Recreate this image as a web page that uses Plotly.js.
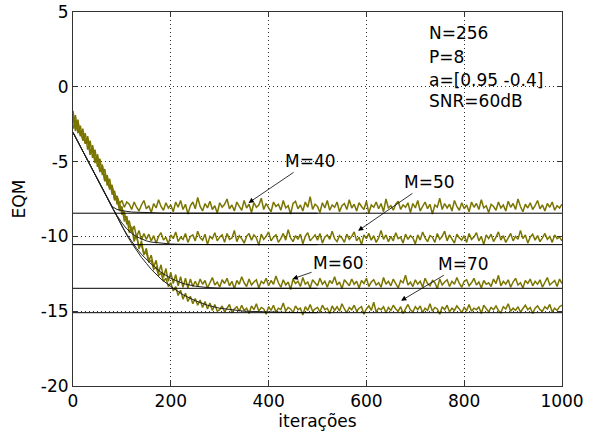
<!DOCTYPE html>
<html><head><meta charset="utf-8">
<script src="https://cdn.plot.ly/plotly-3.0.1.min.js"></script>
<style>html,body{margin:0;padding:0;background:#fff;}#chart{width:600px;height:437px;}</style>
</head><body><div id="chart"></div>
<script>
// iteration step between stored samples of the measured curves
const iterStep = 5;

// measured EQM (dB), one sample every 5 iterations, 0..1000
const mse40 = [-1.6,-2.7,-2.2,-3.3,-2.8,-3.8,-3.3,-4.45,-3.9,-5.0,-4.5,-5.6,-5.3,-6.3,-6.1,-6.8,-6.7,-7.5,-7.3,-7.8,-7.6,-8.05,-7.7,
-7.85,-8.2,-7.7,-8.05,-8.3,-7.9,-7.6,-8.15,-7.95,-8.4,
-7.8,-8.1,-7.55,-8.0,-8.25,-7.75,-8.1,-7.9,-8.35,-7.7,
-8.05,-7.6,-8.2,-7.85,-8.5,-7.95,-7.7,-8.15,-7.4,-8.0,
-8.3,-7.8,-8.1,-7.65,-8.2,-7.95,-8.45,-7.75,-8.05,-7.85,
-7.5,-8.15,-7.9,-8.3,-7.7,-8.0,-8.25,-7.6,-8.1,-7.85,
-8.4,-7.75,-8.05,-7.9,-7.45,-8.2,-7.8,-8.1,-8.35,-7.7,
-8.0,-7.85,-8.25,-7.6,-8.1,-7.95,-8.5,-7.8,-7.65,-8.15,
-7.9,-8.3,-7.7,-8.05,-7.35,-8.2,-7.85,-8.0,-8.4,-7.75,
-8.1,-7.6,-8.25,-7.9,-8.05,-7.7,-8.35,-7.95,-7.8,-8.2,
-7.55,-8.1,-7.85,-8.3,-7.75,-8.0,-8.2,-7.65,-8.45,-7.9,
-8.05,-7.7,-8.15,-7.8,-8.35,-7.5,-8.1,-7.95,-8.25,-7.85,
-7.65,-8.2,-7.9,-8.05,-7.75,-8.4,-7.8,-8.1,-7.6,-8.3,
-7.95,-7.7,-8.15,-7.85,-8.5,-7.9,-8.05,-7.45,-8.2,-7.8,
-8.1,-7.85,-8.3,-7.6,-8.0,-8.25,-7.75,-8.15,-7.9,-8.35,
-7.7,-8.05,-7.8,-8.2,-7.55,-8.1,-7.95,-8.4,-7.85,-8.0,
-8.25,-7.7,-8.1,-7.9,-8.3,-7.65,-8.05,-7.8,-8.2,-7.5,
-8.0,-8.35,-7.85,-8.1,-7.75,-8.2,-7.95,-7.6,-8.15,-7.9,
-8.3,-7.8,-8.05,-7.7,-8.25,-7.95,-8.1,-7.85];

const mse50 = [-2.4,-1.9,-3.1,-2.6,-3.6,-3.1,-4.2,-3.6,-4.75,-4.2,-5.35,-4.8,-5.9,-5.5,-6.6,-6.15,-7.2,-6.95,-7.85,-7.7,-8.55,-8.35,-9.2,-8.95,-9.75,-9.3,-10.05,-9.6,-10.25,-9.8,
-10.2,-9.85,-10.3,-9.95,-10.45,-10.0,-9.75,-10.25,-10.05,-10.5,
-9.9,-10.15,-9.7,-10.35,-10.05,-10.2,-9.8,-10.4,-10.0,-9.9,
-10.3,-9.65,-10.1,-10.25,-9.85,-10.55,-10.0,-10.15,-9.75,-10.3,
-10.05,-9.9,-10.4,-9.8,-10.2,-10.1,-9.6,-10.35,-9.95,-10.15,
-10.45,-10.0,-9.8,-10.25,-9.9,-10.1,-10.6,-9.85,-10.2,-10.0,
-9.7,-10.3,-10.05,-9.9,-10.4,-10.15,-9.8,-10.25,-9.55,-10.1,
-10.35,-9.95,-10.2,-9.85,-10.5,-10.0,-9.75,-10.3,-10.1,-9.9,
-10.25,-9.8,-10.45,-10.05,-9.9,-10.2,-9.65,-10.15,-10.35,-9.95,
-10.1,-10.4,-9.85,-10.2,-10.0,-9.7,-10.3,-10.05,-10.55,-9.9,
-10.15,-9.8,-10.25,-9.95,-10.4,-10.1,-9.6,-10.2,-9.9,-10.35,
-10.0,-10.3,-9.75,-10.15,-10.05,-10.45,-9.85,-10.2,-9.95,-10.1,
-10.5,-9.9,-10.25,-9.7,-10.1,-10.35,-9.95,-10.05,-10.4,-9.8,
-10.2,-10.0,-9.65,-10.3,-9.9,-10.15,-10.45,-9.85,-10.1,-10.25,
-9.95,-10.4,-9.8,-10.2,-10.05,-9.75,-10.3,-10.0,-10.55,-9.9,
-10.15,-9.85,-10.35,-10.05,-9.7,-10.25,-9.95,-10.4,-10.1,-9.8,
-10.3,-10.0,-10.2,-9.6,-10.15,-9.9,-10.45,-10.05,-9.85,-10.25,
-9.95,-10.35,-10.1,-9.8,-10.2,-10.0,-10.4,-9.9,-10.15,-10.05,
-10.3];

const mse60 = [-2.8,-2.2,-3.0,-2.95,-3.5,-3.6,-3.45,-4.55,-4.0,-5.1,-4.6,-5.7,-5.2,-6.3,-5.9,-6.85,-6.55,-7.6,-7.3,-8.3,
-8.0,-9.0,-8.65,-9.75,-9.35,-10.35,-9.85,-10.85,-10.3,-11.25,-10.8,-11.65,-11.25,-12.05,-11.6,-12.45,-11.9,-12.75,-12.15,-13.0,
-12.4,-13.15,-12.55,-13.3,-12.7,-13.4,-12.8,-13.45,-12.85,-13.35,
-13.0,-13.35,-12.85,-13.2,-12.95,-13.45,-13.1,-12.75,-13.25,-13.05,
-13.4,-12.9,-13.15,-12.8,-13.3,-13.0,-13.5,-12.95,-13.2,-12.7,
-13.1,-13.35,-12.85,-13.25,-13.05,-12.9,-13.45,-13.0,-13.15,-12.8,
-13.3,-12.95,-13.2,-12.65,-13.1,-13.4,-12.9,-13.25,-13.05,-13.55,
-12.85,-13.15,-13.0,-13.35,-12.75,-13.2,-13.05,-13.45,-12.9,-13.1,
-13.3,-12.8,-13.2,-13.0,-13.4,-12.95,-13.15,-12.7,-13.25,-13.05,
-13.5,-12.9,-13.1,-13.3,-12.85,-13.2,-13.0,-13.45,-12.95,-13.15,
-12.8,-13.35,-13.05,-12.9,-13.25,-13.1,-13.4,-12.75,-13.2,-13.0,
-13.3,-12.85,-13.15,-13.45,-12.95,-13.1,-12.6,-13.25,-13.05,-13.35,
-12.9,-13.2,-13.0,-13.4,-12.8,-13.15,-13.3,-12.95,-13.1,-13.5,
-12.85,-13.25,-13.05,-12.9,-13.35,-13.0,-13.2,-12.75,-13.15,-13.4,
-13.0,-12.9,-13.3,-13.1,-12.8,-13.25,-13.05,-13.45,-12.95,-13.2,
-13.1,-13.35,-12.85,-13.15,-12.6,-13.3,-13.0,-13.2,-12.9,-13.4,
-13.05,-12.8,-13.25,-13.1,-13.45,-12.95,-13.15,-12.85,-13.3,-13.0,
-13.2,-12.9,-13.4,-13.05,-12.75,-13.25,-13.1,-12.95,-13.35,-12.85,
-13.15];

const mse70 = [-2.0,-2.95,-2.35,-3.25,-3.1,-3.75,-3.65,-4.3,-4.3,-4.85,-4.75,-5.6,-5.4,-6.1,-6.1,-6.75,-6.7,-7.4,-7.4,-8.05,
-8.1,-8.7,-8.8,-9.35,-9.45,-10.05,-10.05,-10.65,-10.6,-11.15,-11.1,-11.7,-11.6,-12.2,-12.05,-12.6,-12.45,-13.0,-12.8,-13.35,
-13.1,-13.65,-13.35,-13.95,-13.6,-14.2,-13.8,-14.35,-14.0,-14.5,-14.15,-14.6,-14.25,-14.75,-14.35,-14.85,-14.45,-14.95,-14.55,-15.0,
-14.9,-14.65,-15.05,-14.75,-14.55,-15.1,-14.85,-14.7,-15.0,-14.6,
-14.95,-14.8,-15.15,-14.65,-14.9,-14.5,-15.0,-14.75,-14.85,-15.2,
-14.7,-14.95,-14.6,-15.05,-14.8,-14.9,-14.45,-15.0,-14.75,-14.85,
-15.1,-14.65,-14.9,-14.8,-15.25,-14.7,-14.95,-14.55,-15.0,-14.85,
-14.75,-15.05,-14.6,-14.9,-14.8,-15.15,-14.65,-14.95,-14.7,-15.0,
-14.5,-14.85,-15.1,-14.75,-14.9,-14.6,-15.0,-14.8,-14.7,-15.2,
-14.85,-14.65,-14.95,-14.4,-15.05,-14.8,-14.9,-14.7,-15.1,-14.75,
-14.95,-14.6,-14.85,-15.0,-14.7,-15.15,-14.8,-14.55,-14.9,-15.05,
-14.7,-14.9,-14.65,-15.1,-14.8,-14.95,-14.5,-15.0,-14.75,-14.85,
-15.2,-14.7,-14.9,-14.6,-15.05,-14.8,-14.95,-14.65,-14.85,-15.1,
-14.75,-14.95,-14.55,-15.0,-14.8,-14.9,-14.7,-15.15,-14.6,-14.85,
-15.05,-14.75,-14.9,-14.65,-14.95,-15.1,-14.7,-14.85,-14.5,-15.0,
-14.8,-14.95,-14.7,-15.05,-14.85,-14.6,-14.9,-14.75,-15.15,-14.8,
-14.65,-14.9,-15.0,-14.7,-14.85,-14.55,-15.05,-14.8,-14.95,-14.7,
-14.6];

// theoretical learning curves (dB)
const theoryIter = [0,10,20,30,40,50,60,70,80,90,100,110,120,130,140,150,160,180,200,225,250,275,300,350,400,450,500];
const theory40 = [-3.05,-3.68,-4.3,-4.93,-5.55,-6.18,-6.8,-7.43,-8.0,-8.2,-8.28,-8.33,-8.37,-8.39,-8.41,-8.42,-8.43,-8.44,-8.45,-8.45,-8.45,-8.45,-8.45,-8.45,-8.45,-8.45,-8.45];
const theory50 = [-3.05,-3.68,-4.3,-4.93,-5.55,-6.18,-6.8,-7.43,-8.05,-8.6,-9.1,-9.5,-9.8,-10.02,-10.18,-10.3,-10.38,-10.47,-10.51,-10.53,-10.55,-10.55,-10.55,-10.55,-10.55,-10.55,-10.55];
const theory60 = [-3.05,-3.68,-4.3,-4.93,-5.55,-6.18,-6.8,-7.43,-8.05,-8.7,-9.3,-9.85,-10.35,-10.8,-11.2,-11.55,-11.85,-12.4,-12.8,-13.15,-13.33,-13.42,-13.46,-13.47,-13.47,-13.47,-13.47];
const theory70 = [-3.05,-3.68,-4.3,-4.93,-5.55,-6.18,-6.8,-7.43,-8.05,-8.72,-9.35,-9.92,-10.45,-10.95,-11.4,-11.8,-12.2,-12.85,-13.35,-13.9,-14.3,-14.6,-14.8,-15.0,-15.07,-15.09,-15.1];

// steady-state levels (dB)
const steadyLevels = [-8.45,-10.55,-13.47,-15.1];
const seriesLabels = ['M=40','M=50','M=60','M=70'];
const xRange = [0,1000];
const xTicks = [0,200,400,600,800,1000];
const yTicks = [5,0,-5,-10,-15,-20];
const yTickText = ['5','0','-5','-10','-15','-20'];
const infoLines = ['N=256','P=8','a=[0.95 -0.4]','SNR=60dB'];

const measured = [mse40,mse50,mse60,mse70];
const theory = [theory40,theory50,theory60,theory70];

const FONT = 'DejaVu Sans, Arial, sans-serif';
const OLIVE = '#7a7500';

const traces = [];
measured.forEach((ys,k)=>{
  traces.push({x: ys.map((_,i)=>i*iterStep), y: ys, type:'scatter', mode:'lines',
    line:{color:OLIVE,width:1.5}, name:seriesLabels[k], hoverinfo:'skip'});
});
theory.forEach((ys,k)=>{
  traces.push({x: theoryIter, y: ys, type:'scatter', mode:'lines',
    line:{color:'#222',width:1}, name:seriesLabels[k]+' teórico', hoverinfo:'skip'});
});
steadyLevels.forEach((v,k)=>{
  traces.push({x: xRange, y:[v,v], type:'scatter', mode:'lines',
    line:{color:'#000',width:1}, name:seriesLabels[k]+' regime', hoverinfo:'skip'});
});

// arrow annotations: head point in data coords, text offset in px
const arrowSpecs = [
  {x:359, y:-7.76, ax:62, ay:-42},
  {x:583, y:-9.63, ax:71, ay:-49},
  {x:449, y:-12.84, ax:46, ay:-16},
  {x:671, y:-14.3, ax:62, ay:-37}
];
const annotations = arrowSpecs.map((s,k)=>({
  x:s.x, y:s.y, xref:'x', yref:'y', ax:s.ax, ay:s.ay, text:seriesLabels[k],
  showarrow:true, arrowhead:2, arrowsize:1.3, arrowwidth:0.8, arrowcolor:'#000',
  font:{family:FONT,size:17,color:'#000'}
}));
const infoY = [3.61,2.01,0.47,-0.94];
infoLines.forEach((t,k)=>{
  annotations.push({x:724, y:infoY[k], xref:'x', yref:'y', text:t, showarrow:false,
    xanchor:'left', yanchor:'middle', font:{family:FONT,size:17,color:'#000'}});
});

const axisCommon = {
  showline:true, linecolor:'#333', linewidth:1, mirror:'ticks',
  ticks:'inside', ticklen:5, tickcolor:'#333',
  showgrid:true, gridcolor:'#333', griddash:'1px,3px', gridwidth:1,
  zeroline:false, tickfont:{family:FONT,size:17,color:'#000'}
};

const layout = {
  width:600, height:437,
  margin:{l:73, r:38, t:12, b:51},
  paper_bgcolor:'#fff', plot_bgcolor:'#fff',
  showlegend:false,
  font:{family:FONT,size:17,color:'#000'},
  xaxis: Object.assign({}, axisCommon, {range:xRange, tickvals:xTicks, ticktext:xTicks.map(String),
    title:{text:'iterações', font:{family:FONT,size:17,color:'#000'}, standoff:4}}),
  yaxis: Object.assign({}, axisCommon, {range:[-20,5], tickvals:yTicks, ticktext:yTickText,
    title:{text:'EQM', font:{family:FONT,size:17,color:'#000'}, standoff:10}}),
  annotations: annotations
};

Plotly.newPlot('chart', traces, layout, {staticPlot:true, displayModeBar:false});
</script>
</body></html>
